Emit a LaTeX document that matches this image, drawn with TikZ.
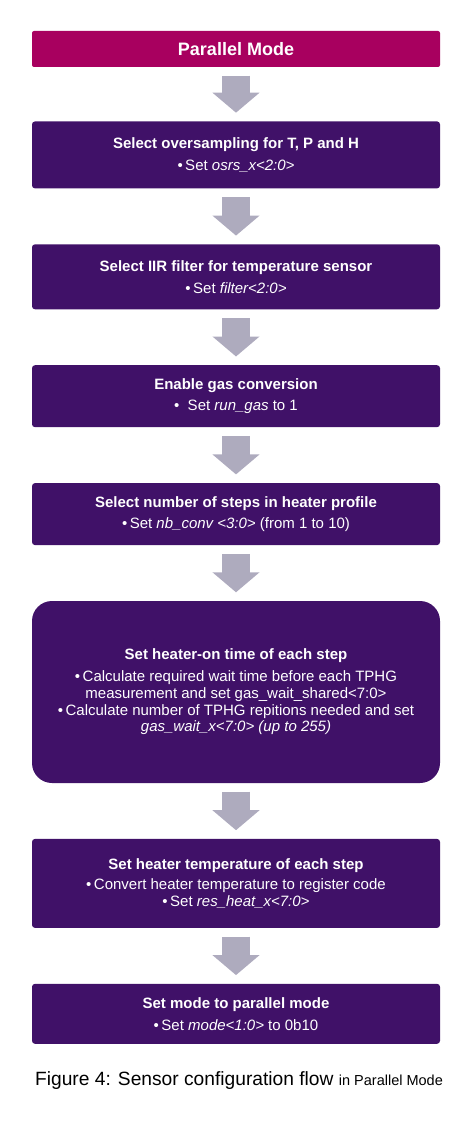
\documentclass[tikz,border=0pt]{standalone}
\usepackage{fontspec}
\setmainfont{Liberation Sans}
\usetikzlibrary{positioning}
\usetikzlibrary{arrows.meta}
\definecolor{boschmagenta}{RGB}{168,0,95}
\definecolor{boschpurple}{RGB}{64,17,104}
\definecolor{arrowgrey}{RGB}{174,171,190}

\begin{document}
\begin{tikzpicture}[x=1pt, y=1pt, node distance=55.5pt,
    titlebox/.style={rectangle, rounded corners=2pt, fill=boschmagenta, text=white, minimum width=408pt, minimum height=36pt, font=\bfseries\fontsize{18}{20}\selectfont},
    stepbox/.style={rectangle, rounded corners=3pt, fill=boschpurple, text=white, minimum width=408pt, align=center, font=\fontsize{15}{16.8}\selectfont},
    flow/.style={-{Triangle[width=46pt, length=20pt]}, line width=28pt, draw=arrowgrey, shorten <=8.5pt, shorten >=8.5pt}]
            \useasboundingbox (0,0) rectangle (473,-1123);
            \node[titlebox] (mode) at (236,-49) {Parallel Mode};
            \node[stepbox, minimum height=67pt, below = 54pt of mode] (osrs) {\textbf{Select oversampling for T, P and H}\\[5pt]\textbullet\,Set \textit{osrs\_x<2:0>}};
            \node[stepbox, minimum height=65pt, below = of osrs] (filter) {\textbf{Select IIR filter for temperature sensor}\\[5pt]\textbullet\,Set \textit{filter<2:0>}};
            \node[stepbox, minimum height=62pt, below = of filter] (gas) {\textbf{Enable gas conversion}\\[5pt]\textbullet\ \ Set \textit{run\_gas} to 1};
            \node[stepbox, minimum height=62pt, below = of gas] (steps) {\textbf{Select number of steps in heater profile}\\[5pt]\textbullet\,Set \textit{nb\_conv <3:0>} (from 1 to 10)};
            \node[stepbox, rounded corners=20pt, minimum height=182pt, below = of steps] (ontime) {\textbf{Set heater-on time of each step}\\[5pt]\textbullet\,Calculate required wait time before each TPHG\\measurement and set gas\_wait\_shared<7:0>\\\textbullet\,Calculate number of TPHG repitions needed and set\\\textit{gas\_wait\_x<7:0> (up to 255)}};
            \node[stepbox, minimum height=89pt, below = of ontime] (temp) {\textbf{Set heater temperature of each step}\\[4pt]\textbullet\,Convert heater temperature to register code\\\textbullet\,Set \textit{res\_heat\_x<7:0>}};
            \node[stepbox, minimum height=60pt, below = of temp] (setmode) {\textbf{Set mode to parallel mode}\\[5pt]\textbullet\,Set \textit{mode<1:0>} to 0b10};
            \node[below = 27pt of setmode, xshift=3pt, inner sep=0pt, font=\fontsize{19.2}{21}\selectfont] (caption) {Figure 4: Sensor configuration flow {\fontsize{14.5}{17}\selectfont in Parallel Mode}};

            \foreach \from/\to in {mode/osrs, osrs/filter, filter/gas, gas/steps, steps/ontime, ontime/temp, temp/setmode}
                \draw[flow] (\from) -- (\to);
        \end{tikzpicture}
\end{document}
